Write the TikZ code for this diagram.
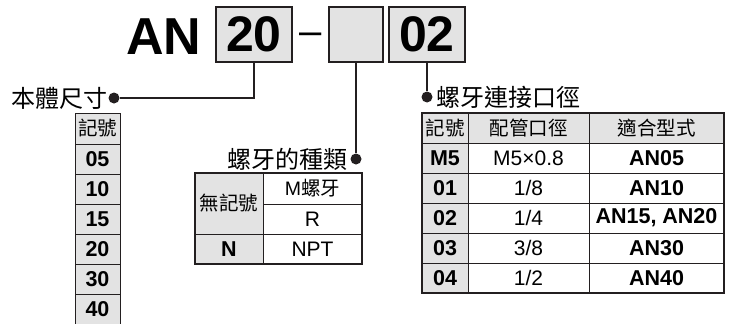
\documentclass[tikz,border=0pt]{standalone}
\usepackage{fontspec}
\setmainfont{Liberation Sans}
\newfontfamily\cjk{Noto Sans CJK TC}
\usepackage{tikz}
\usetikzlibrary{positioning}
\definecolor{cellgray}{HTML}{E3E3E3}
\definecolor{ink}{HTML}{231F20}

\begin{document}
\begin{tikzpicture}[x=1pt,y=-1pt,node distance=0pt,
   codebox/.style={draw=ink,fill=cellgray,line width=1.6pt,minimum width=76pt,minimum height=55pt,inner sep=0pt,font=\fontsize{50}{50}\selectfont\bfseries},
   joint/.style={circle,fill=ink,inner sep=0pt,minimum size=11pt},
   lead/.style={draw=ink,line width=1.8pt},
   caption/.style={font=\cjk\fontsize{24}{24}\selectfont,inner sep=0pt},
   cell/.style={draw=ink,line width=0.8pt,inner sep=0pt,outer sep=0pt,anchor=north west,minimum height=30pt,font=\fontsize{21}{21}\selectfont},
   keycell/.style={cell,fill=cellgray},
   zh/.style={font=\cjk\fontsize{19.5}{19.5}\selectfont},
   num/.style={font=\fontsize{21.5}{21.5}\selectfont\bfseries},
   frame/.style={draw=ink,line width=1.3pt}]
   \useasboundingbox (0,0) rectangle (734,324);

   % model code
   \node[font=\fontsize{52}{52}\selectfont\bfseries,inner sep=0pt,anchor=base west] (series) at (126,54) {AN};
   \node[codebox] (size) at (254,34.5) {20};
   \node[font=\fontsize{40}{40}\selectfont,inner sep=0pt,anchor=base] (dash) at (311,45) {–};
   \node[codebox,minimum width=54pt] (thread) at (356,34.5) {};
   \node[codebox] (port) at (427,34.5) {02};

   \node[joint] (sizedot) at (114,98) {};
   \node[joint] (threaddot) at (356,159) {};
   \node[joint] (portdot) at (427,97) {};
   \node[caption,left=1pt of sizedot] (sizelabel) {本體尺寸};
   \node[caption,left=3pt of threaddot] (threadlabel) {螺牙的種類};
   \node[caption,right=4pt of portdot] (portlabel) {螺牙連接口徑};

   \draw[lead] (size.south) |- (sizedot);
   \draw[lead] (thread.south) -- (threaddot);
   \draw[lead] (port.south) -- (portdot);

   % body size
   \node[keycell,zh,minimum width=45pt,minimum height=31pt] (sizehead) at (75,113) {記號};
   \node[keycell,num,minimum width=45pt,below=of sizehead] (size05) {05};
   \node[keycell,num,minimum width=45pt,below=of size05] (size10) {10};
   \node[keycell,num,minimum width=45pt,below=of size10] (size15) {15};
   \node[keycell,num,minimum width=45pt,below=of size15] (size20) {20};
   \node[keycell,num,minimum width=45pt,below=of size20] (size30) {30};
   \node[keycell,num,minimum width=45pt,minimum height=38pt,text depth=8pt,below=of size30] (size40) {40};

   % thread type
   \node[keycell,zh,minimum width=68pt,minimum height=61pt] (plain) at (195,173) {無記號};
   \node[cell,zh,minimum width=99pt,minimum height=31pt] (metric) at (263,173) {\textrm{M}螺牙};
   \node[cell,minimum width=99pt,below=of metric] (rthread) {R};
   \node[keycell,num,minimum width=68pt,below=of plain] (npt) {N};
   \node[cell,minimum width=99pt,below=of rthread] (nptname) {NPT};
   \draw[frame] (plain.north west) rectangle (nptname.south east);

   % port size
   \node[keycell,zh,minimum width=46pt] (porthead) at (422,113) {記號};
   \node[keycell,zh,minimum width=121pt] (pipehead) at (468,113) {配管口徑};
   \node[keycell,zh,minimum width=135pt] (fithead) at (589,113) {適合型式};
   \node[keycell,num,minimum width=46pt,below=of porthead] (portM5) {M5};
   \node[keycell,num,minimum width=46pt,below=of portM5] (port01) {01};
   \node[keycell,num,minimum width=46pt,below=of port01] (port02) {02};
   \node[keycell,num,minimum width=46pt,below=of port02] (port03) {03};
   \node[keycell,num,minimum width=46pt,below=of port03] (port04) {04};
   \node[cell,minimum width=121pt,below=of pipehead] (pipeM5) {M5×0.8};
   \node[cell,minimum width=121pt,below=of pipeM5] (pipe01) {1/8};
   \node[cell,minimum width=121pt,below=of pipe01] (pipe02) {1/4};
   \node[cell,minimum width=121pt,below=of pipe02] (pipe03) {3/8};
   \node[cell,minimum width=121pt,below=of pipe03] (pipe04) {1/2};
   \node[cell,num,minimum width=135pt,below=of fithead] (fitM5) {AN05};
   \node[cell,num,minimum width=135pt,below=of fitM5] (fit01) {AN10};
   \node[cell,num,minimum width=135pt,below=of fit01] (fit02) {AN15, AN20};
   \node[cell,num,minimum width=135pt,below=of fit02] (fit03) {AN30};
   \node[cell,num,minimum width=135pt,below=of fit03] (fit04) {AN40};
   \draw[frame] (porthead.north west) rectangle (fit04.south east);
\end{tikzpicture}
\end{document}
